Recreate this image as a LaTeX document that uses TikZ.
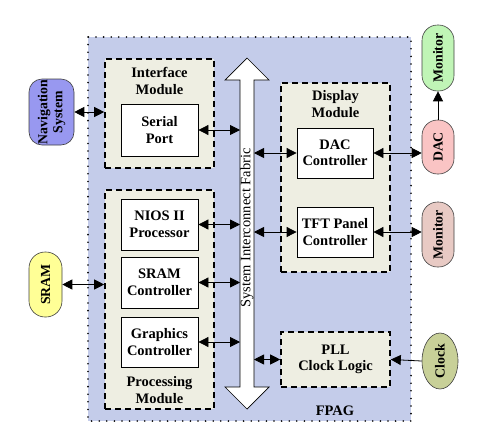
\documentclass[tikz,border=0pt]{standalone}
\usepackage{fontspec}
\setmainfont{Liberation Serif}
\usetikzlibrary{arrows.meta,shapes.geometric}
\definecolor{fpgablue}{RGB}{196,204,234}
\definecolor{modfill}{RGB}{238,238,226}
\definecolor{navpurple}{RGB}{152,152,240}
\definecolor{sramyellow}{RGB}{255,255,150}
\definecolor{mongreen}{RGB}{192,245,182}
\definecolor{dacpink}{RGB}{250,196,196}
\definecolor{montwo}{RGB}{232,202,196}
\definecolor{clockolive}{RGB}{200,208,152}
\tikzset{
  fpgabox/.style={draw=black, fill=fpgablue, line width=1.8pt, dash pattern=on 0pt off 7.6pt, line cap=round},
  modbox/.style={draw=black, fill=modfill, line width=1.6pt, dash pattern=on 6pt off 4pt},
  inbox/.style={draw=black, fill=white, line width=0.8pt, align=center, font=\fontsize{14.5}{16.5}\selectfont\bfseries, inner sep=0pt},
  modlabel/.style={align=center, font=\fontsize{14.5}{16.5}\selectfont\bfseries, inner sep=0pt},
  sidebox/.style={draw=black!75, line width=0.6pt, inner sep=0pt},
  sidelabel/.style={rotate=90, align=center, font=\fontsize{13.8}{15}\selectfont\bfseries, inner sep=0pt},
  biarrow/.style={{Triangle[length=10pt,width=10pt]}-{Triangle[length=10pt,width=10pt]}, line width=0.8pt},
  oneway/.style={-{Triangle[length=10pt,width=10pt]}, line width=0.8pt}
}
\begin{document}
\begin{tikzpicture}[x=1pt,y=-1pt]
\useasboundingbox (0,0) rectangle (478,447);
% FPGA region
\path[fpgabox] (88,37) rectangle (411,421);
\node[modlabel] (fpag) at (335,411) {FPAG};
% modules
\node[modbox, minimum width=109pt, minimum height=109pt] (iface) at (159.5,113.5) {};
\node[modlabel] (ifacet) at (159.5,81) {Interface\\Module};
\node[modbox, minimum width=109pt, minimum height=219pt] (proc) at (159.5,299.5) {};
\node[modlabel] (proct) at (159.5,390) {Processing\\Module};
\node[modbox, minimum width=109pt, minimum height=189pt] (disp) at (335.5,177.5) {};
\node[modlabel] (dispt) at (335.5,104) {Display\\Module};
\node[modbox, minimum width=109pt, minimum height=55pt, modlabel] (pll) at (335.5,359.5) {PLL\\Clock Logic};
% inner boxes
\node[inbox, minimum width=77pt, minimum height=52pt] (serial) at (159.5,130) {Serial\\Port};
\node[inbox, minimum width=77pt, minimum height=51pt] (nios) at (159.5,224.5) {NIOS II\\Processor};
\node[inbox, minimum width=77pt, minimum height=51pt] (sramc) at (159.5,282.5) {SRAM\\Controller};
\node[inbox, minimum width=77pt, minimum height=50pt] (gfx) at (159.5,342) {Graphics\\Controller};
\node[inbox, minimum width=76pt, minimum height=50pt] (dacc) at (335,153) {DAC\\Controller};
\node[inbox, minimum width=76pt, minimum height=50pt] (tft) at (335,232) {TFT Panel\\Controller};
% system interconnect fabric
\path[draw=black, fill=white, line width=0.7pt]
  (247,58) -- (269,80) -- (254,80) -- (254,387) -- (269,387) -- (247,409)
  -- (225,387) -- (240,387) -- (240,80) -- (225,80) -- cycle;
\coordinate (busL) at (240,233);
\coordinate (busR) at (254,233);
\node[rotate=90, font=\fontsize{14.5}{16}\selectfont, inner sep=0pt] (fabt) at (247,228) {System Interconnect Fabric};
% side nodes
\node[sidebox, fill=navpurple, rounded corners=13pt, minimum width=45pt, minimum height=66pt] (nav) at (51.5,112) {};
\node[sidelabel] (navt) at (nav) {Navigation\\System};
\node[sidebox, fill=sramyellow, rounded corners=16pt, minimum width=33pt, minimum height=65pt] (sram) at (45.5,284.5) {};
\node[sidelabel] (sramt) at (sram) {SRAM};
\node[sidebox, fill=mongreen, rounded corners=15.5pt, minimum width=32pt, minimum height=66pt] (mon1) at (438,58) {};
\node[sidelabel] (mon1t) at (mon1) {Monitor};
\node[sidebox, fill=dacpink, rounded corners=15.5pt, minimum width=32pt, minimum height=54pt] (dac) at (438,147) {};
\node[sidelabel] (dact) at (dac) {DAC};
\node[sidebox, fill=montwo, rounded corners=15.5pt, minimum width=32pt, minimum height=65pt] (mon2) at (438,234.5) {};
\node[sidelabel] (mon2t) at (mon2) {Monitor};
\node[sidebox, ellipse, fill=clockolive, minimum width=36pt, minimum height=56pt] (clock) at (440,361) {};
\node[sidelabel] (clockt) at (clock) {Clock};
% connectors
\draw[biarrow] (nav.east) -- (nav.east -| iface.west);
\draw[biarrow] (serial.east) -- (serial.east -| busL);
\draw[biarrow] (nios.east) -- (nios.east -| busL);
\draw[biarrow] (sramc.east) -- (sramc.east -| busL);
\draw[biarrow] (gfx.east) -- (gfx.east -| busL);
\draw[biarrow] (sram.east) -- (sram.east -| proc.west);
\draw[biarrow] (dacc.west -| busR) -- (dacc.west);
\draw[biarrow] (dacc.east) -- (dacc.east -| dac.west);
\draw[biarrow] (tft.west -| busR) -- (tft.west);
\draw[biarrow] (tft.east) -- (tft.east -| mon2.west);
\draw[biarrow] (pll.west -| busR) -- (pll.west);
\draw[oneway] (clock.west) -- (pll.east);
\draw[oneway] (dac.north) -- (mon1.south);
\end{tikzpicture}
\end{document}
